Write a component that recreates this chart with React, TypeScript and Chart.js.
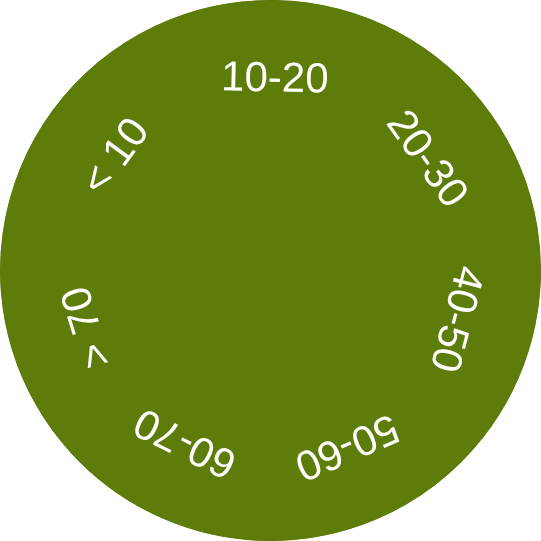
import React, { useEffect, useRef } from "react";
import { Chart, registerables } from "chart.js";

Chart.register(...registerables);

const categories = ["< 10", "10-20", "20-30", "40-50", "50-60", "60-70", "> 70"];
const seriesValues = [56.6, 53.4, 53.0, 47.2, 56.8, 42.6, 50.4];
const sliceColor = "#5d7c09";

const rotatedLabels = {
  id: "rotatedLabels",
  afterDatasetsDraw(chart: any) {
    const ctx = chart.ctx;
    const meta = chart.getDatasetMeta(0);
    ctx.save();
    ctx.fillStyle = "#ffffff";
    ctx.font = '42px "Liberation Sans", Arial, sans-serif';
    ctx.textAlign = "center";
    ctx.textBaseline = "middle";
    meta.data.forEach((arc: any, i: number) => {
      const p = arc.getProps(["x", "y", "startAngle", "endAngle", "outerRadius"], true);
      const mid = (p.startAngle + p.endAngle) / 2;
      const r = p.outerRadius * 0.705;
      const px = p.x + Math.cos(mid) * r;
      const py = p.y + Math.sin(mid) * r;
      ctx.save();
      ctx.translate(px, py);
      ctx.rotate(mid + Math.PI / 2);
      ctx.fillText(chart.data.labels[i], 0, 0);
      ctx.restore();
    });
    ctx.restore();
  },
};

export default function App() {
  const canvasRef = useRef<HTMLCanvasElement | null>(null);

  useEffect(() => {
    if (!canvasRef.current) return;
    const chart = new Chart(canvasRef.current, {
      type: "pie",
      data: {
        labels: categories,
        datasets: [
          {
            data: seriesValues,
            backgroundColor: sliceColor,
            borderColor: sliceColor,
            borderWidth: 1,
            borderAlign: "inner",
          },
        ],
      },
      options: {
        animation: false,
        responsive: true,
        maintainAspectRatio: false,
        rotation: -82,
        layout: { padding: 0 },
        plugins: {
          legend: { display: false },
          tooltip: { enabled: false },
        },
      },
      plugins: [rotatedLabels],
    });
    return () => chart.destroy();
  }, []);

  return (
    <div style={{ position: "fixed", left: 0, top: 0, width: 541, height: 541 }}>
      <canvas ref={canvasRef} />
    </div>
  );
}
